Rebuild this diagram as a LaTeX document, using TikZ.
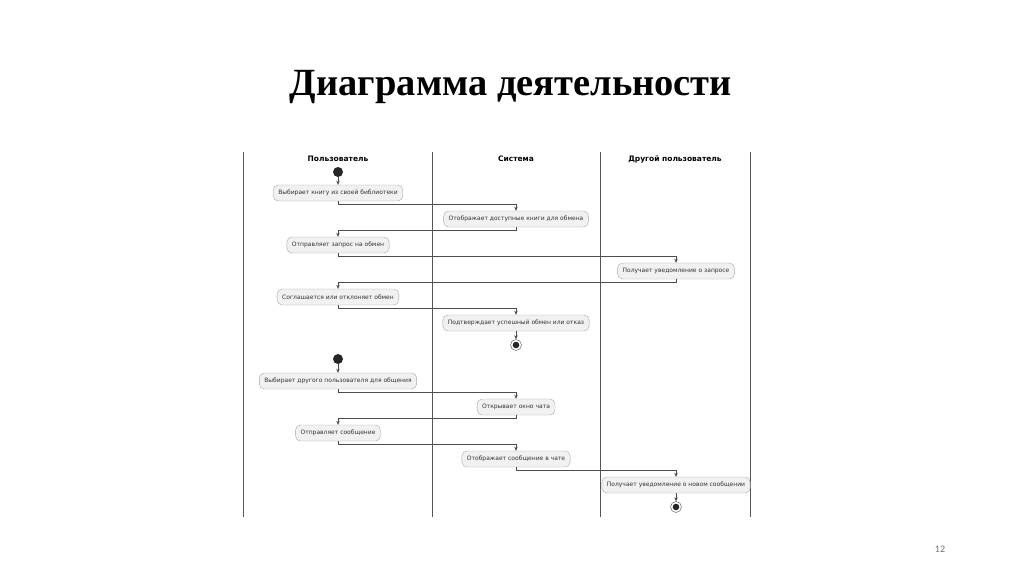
\documentclass[tikz,border=0pt]{standalone}
\usepackage{fontspec}
\setmainfont{Liberation Serif}
\newfontfamily\umlfont{DejaVu Sans}
\newfontfamily\pagefont{Carlito}
\usetikzlibrary{positioning, arrows.meta}

\definecolor{actfill}{HTML}{F1F1F1}
\definecolor{actline}{HTML}{A8A8A8}
\definecolor{laneline}{HTML}{555555}

\tikzset{
  act/.style={draw=actline, fill=actfill, rounded corners=5pt, minimum height=16pt,
    inner xsep=5pt, inner ysep=0pt, font=\umlfont\fontsize{6}{7}\selectfont, text=black!80},
  flow/.style={draw=black!70, line width=0.6pt, -{Stealth[length=4pt,width=3.5pt]}},
  startdot/.style={circle, fill=black!85, minimum size=10pt, inner sep=0pt},
  enddot/.style={circle, draw=black!70, fill=white, minimum size=11pt, inner sep=0pt,
    path picture={\fill[black!85] (path picture bounding box.center) circle (3.3pt);}},
  lane/.style={draw=laneline, line width=1pt},
  lanehead/.style={font=\umlfont\bfseries\fontsize{7.5}{9}\selectfont}
}

\begin{document}
\begin{tikzpicture}[x=1pt, y=-1pt]

    \useasboundingbox[fill=white] (0,0) rectangle (1024,574);

    % title
    \node[font=\bfseries\fontsize{38.5}{42}\selectfont] (title) at (511,87) {Диаграмма деятельности};

    % swimlanes
    \draw[lane] (243,152) -- (243,517);
    \draw[lane] (432,152) -- (432,517);
    \draw[lane] (600,152) -- (600,517);
    \draw[lane] (750,152) -- (750,517);
    \node[lanehead] (user) at (338,159) {Пользователь};
    \node[lanehead] (sys) at (516,159) {Система};
    \node[lanehead] (other) at (675,159) {Другой пользователь};

    % exchange of books
    \node[startdot] (s1) at (338,172) {};
    \node[act] (b2) at (338,193) {Выбирает книгу из своей библиотеки};
    \node[act] (b3) at (516,219) {Отображает доступные книги для обмена};
    \node[act] (b4) at (338,245) {Отправляет запрос на обмен};
    \node[act] (b5) at (676,271) {Получает уведомление о запросе};
    \node[act] (b6) at (338,297) {Соглашается или отклоняет обмен};
    \node[act] (b7) at (516,323) {Подтверждает успешный обмен или отказ};
    \node[enddot] (e1) at (516,345) {};

    \draw[flow] (s1) -- (b2);
    \draw[flow] (b2.south) -- ++(0,3) -| (b3.north);
    \draw[flow] (b3.south) -- ++(0,3) -| (b4.north);
    \draw[flow] (b4.south) -- ++(0,3) -| (b5.north);
    \draw[flow] (b5.south) -- ++(0,3) -| (b6.north);
    \draw[flow] (b6.south) -- ++(0,3) -| (b7.north);
    \draw[flow] (b7) -- (e1);

    % chat
    \node[startdot] (s2) at (338,359) {};
    \node[act] (b10) at (338,381) {Выбирает другого пользователя для общения};
    \node[act] (b11) at (516,407) {Открывает окно чата};
    \node[act] (b12) at (338,433) {Отправляет сообщение};
    \node[act] (b13) at (516,459) {Отображает сообщение в чате};
    \node[act] (b14) at (676,485) {Получает уведомление о новом сообщении};
    \node[enddot] (e2) at (676,507) {};

    \draw[flow] (s2) -- (b10);
    \draw[flow] (b10.south) -- ++(0,3) -| (b11.north);
    \draw[flow] (b11.south) -- ++(0,3) -| (b12.north);
    \draw[flow] (b12.south) -- ++(0,3) -| (b13.north);
    \draw[flow] (b13.south) -- ++(0,3) -| (b14.north);
    \draw[flow] (b14) -- (e2);

    % page number
    \node[font=\pagefont\fontsize{10}{11}\selectfont, text=black!55] (page) at (940,549) {12};

\end{tikzpicture}
\end{document}
